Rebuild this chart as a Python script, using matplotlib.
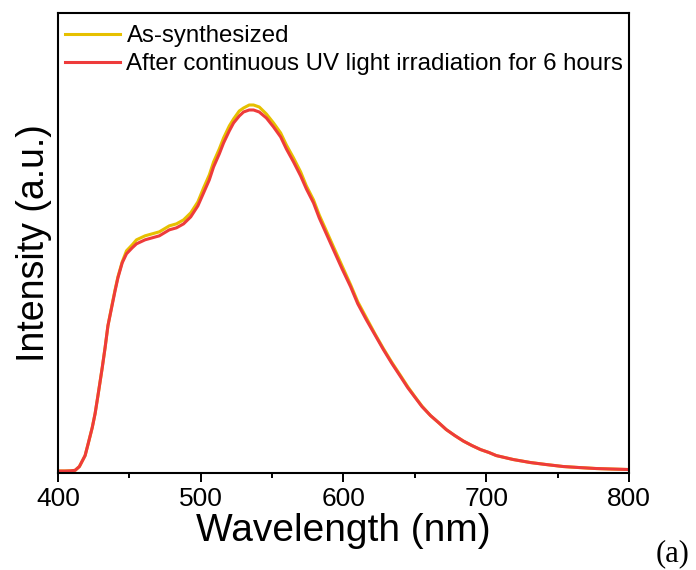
"""PL spectra: as-synthesized vs. after 6 h UV irradiation."""
import matplotlib
matplotlib.use("Agg")
import matplotlib.pyplot as plt
from matplotlib.ticker import MultipleLocator

plt.rcParams.update({"font.family": ["Liberation Sans", "DejaVu Sans"]})

# wavelength grid (nm) and intensities (a.u.)
wavelength = [400, 405, 409, 412, 415, 419, 421, 424, 426, 428, 431, 433, 435, 438,
              440, 442, 445, 448, 452, 455, 461, 466, 471, 478, 483, 488, 493, 498,
              502, 506, 509, 513, 516, 520, 523, 527, 530, 534, 537, 541, 546, 551,
              556, 560, 565, 570, 574, 579, 583, 588, 593, 599, 605, 610, 616, 622,
              628, 634, 640, 645, 650, 655, 661, 667, 672, 678, 684, 690, 696, 702,
              707, 713, 719, 725, 731, 742, 754, 765, 777, 788, 800]
as_synth = [0.5, 0.5, 0.7, 1.2, 5, 16, 27, 44, 58, 76, 104, 124, 146, 168,
            182, 195, 210, 221, 227, 232, 236, 238, 240, 246, 248, 252, 259, 270,
            284, 297, 310, 323, 334, 346, 353, 361, 364, 367, 367, 365, 358, 349,
            339, 327, 314, 300, 286, 272, 257, 241, 225, 206, 187, 170, 154, 138,
            123, 109, 96, 85, 75, 65.5, 56, 48.5, 42, 36, 30.5, 26, 22, 19,
            16, 14, 12, 10.5, 9, 7, 5, 4, 3, 2.5, 2]
after_uv = [0.5, 0.5, 0.7, 1.2, 5, 16, 27, 44, 58, 76, 104, 124, 146, 167,
            181, 194, 209, 218, 224, 228, 232, 234, 236, 242, 244, 248, 255, 266,
            279, 292, 305, 318, 329, 341, 349, 356, 360, 362, 362, 360, 354, 345,
            335, 323, 310, 296, 283, 269, 254, 238, 222, 203, 185, 168, 152, 137,
            122, 108, 95, 84, 74.5, 65, 56, 48.5, 42, 36, 30.5, 26, 22, 19,
            16, 14, 12, 10.5, 9, 7, 5, 4, 3, 2.5, 2]
labels = ["As-synthesized", "After continuous UV light irradiation for 6 hours"]
YELLOW = "#E6C000"; RED = "#EE3B3B"

fig = plt.figure(figsize=(6.96, 5.70), dpi=100)
ax = fig.add_axes([0.0833, 0.171, 0.8204, 0.806])
ax.plot(wavelength, as_synth, color=YELLOW, lw=2.2, label=labels[0])
ax.plot(wavelength, after_uv, color=RED, lw=2.2, label=labels[1])

ax.set_xlim(400, 800); ax.set_ylim(-1, 459)
ax.xaxis.set_major_locator(MultipleLocator(100))
ax.xaxis.set_minor_locator(MultipleLocator(50))
ax.tick_params(axis="x", which="major", direction="out", length=6.5, width=1.4, labelsize=19, pad=4)
ax.tick_params(axis="x", which="minor", direction="out", length=3.5, width=1.4)
ax.tick_params(axis="y", left=False, labelleft=False)
for s in ax.spines.values():
    s.set_linewidth(1.5)

ax.set_xlabel("Wavelength (nm)", fontsize=28, labelpad=1)
ax.set_ylabel("Intensity (a.u.)", fontsize=27, labelpad=4)

ax.legend(loc="upper left", bbox_to_anchor=(0, 0.99), frameon=False, fontsize=17.3,
          handlelength=2.3, handletextpad=0.25, borderaxespad=0, borderpad=0.3,
          labelspacing=0.27)

fig.text(0.967, 0.028, "(a)", fontsize=22, family="Liberation Serif", ha="center", va="center")

fig.savefig("out.png", dpi=100)
